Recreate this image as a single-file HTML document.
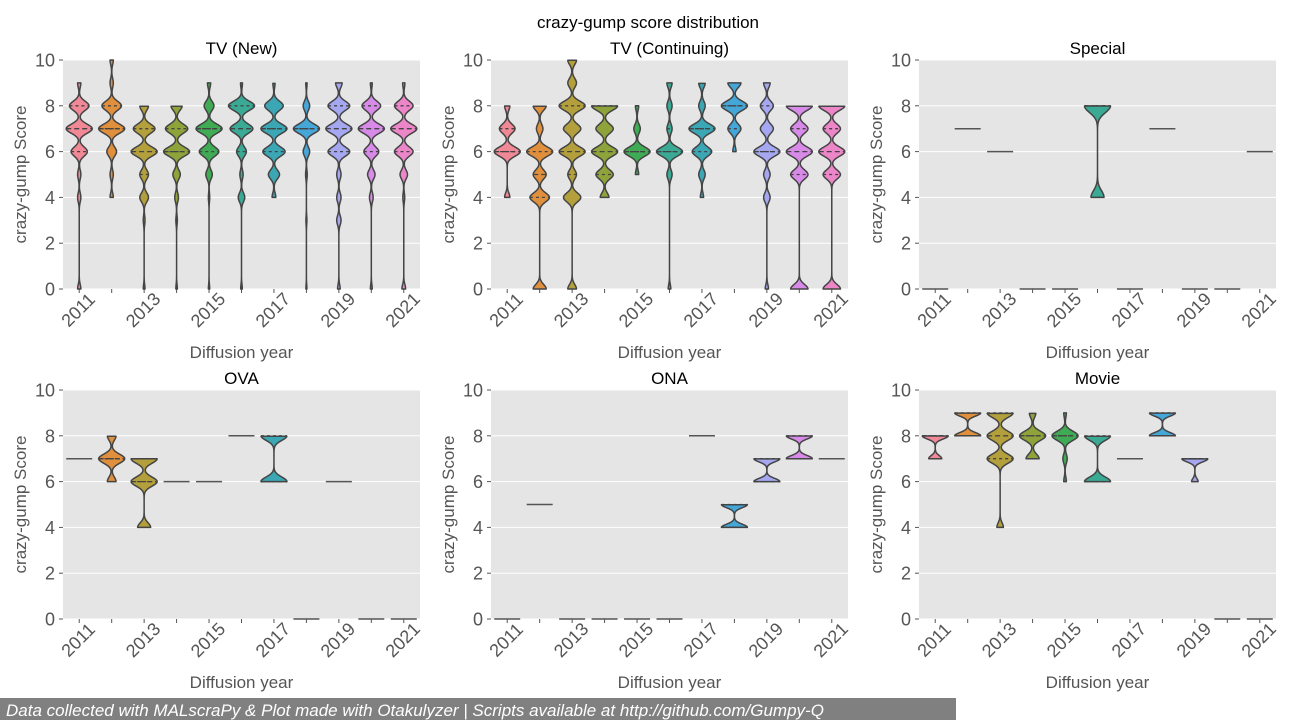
<!DOCTYPE html>
<html><head><meta charset="utf-8">
<style>
html,body{margin:0;padding:0;background:#fff;}
svg{display:block;font-family:"Liberation Sans","DejaVu Sans",sans-serif;}
</style></head>
<body>
<svg id="chart" width="1296" height="720" viewBox="0 0 1296 720">
<text x="648" y="28" text-anchor="middle" font-size="17" fill="#000">crazy-gump score distribution</text>
<rect x="0" y="698" width="956" height="22" fill="#808080"/>
<text x="6" y="716" font-size="17" font-style="italic" fill="#fff">Data collected with MALscraPy &amp; Plot made with Otakulyzer | Scripts available at http://github.com/Gumpy-Q</text>
</svg>
<script>
const years = [2011,2012,2013,2014,2015,2016,2017,2018,2019,2020,2021];
const yTicks = [0,2,4,6,8,10];
const panelTitles = ["TV (New)","TV (Continuing)","Special","OVA","ONA","Movie"];
const colors = ["#f08896","#e0903c","#b3a03c","#8ea33a","#3fab55","#3aaa94","#3ba7b5","#45a6d8","#a5a8f0","#d88ae8","#ec86c8"];
// score counts per year (score:count)
const tvNew = [
 {0:1,4:1,5:1,6:5,7:8,8:6,9:1},
 {4:1,5:1,6:3,7:8,8:6,9:1,10:1},
 {0:0.4,3:0.4,4:2,5:2,6:6,7:5,8:2},
 {0:0.4,3:0.4,4:1,5:2,6:7,7:6,8:3},
 {0:0.4,4:0.4,5:2,6:6,7:8,8:3,9:1},
 {0:0.5,4:2,5:1,6:3,7:7,8:8,9:0.6},
 {4:1,5:3,6:6,7:7,8:5,9:0.6},
 {0:0.3,3:0.3,5:0.5,6:2,7:8,8:2,9:0.4},
 {0:0.6,3:1,4:1,5:1,6:5,7:6,8:5,9:1.5},
 {0:0.5,4:1,5:2,6:4,7:7,8:5,9:0.5},
 {0:1,4:0.5,5:2,6:5,7:7,8:5,9:0.6}
];
const tvCont = [
 {4:1,6:5,7:3,8:1},
 {0:2,4:3,5:2,6:4,7:1,8:2},
 {0:1,4:2,5:1,6:3,7:2,8:3,9:1,10:1},
 {4:1,5:2,6:3,7:2,8:3},
 {5:0.5,6:4,7:1,8:0.5},
 {0:0.5,5:1,6:5,7:1,8:1,9:1},
 {4:0.5,5:1,6:3,7:4,8:1,9:1},
 {6:0.5,7:2,8:4,9:2},
 {0:0.5,4:1,5:1,6:4,7:2,8:2,9:1},
 {0:2,5:2,6:3,7:2,8:3},
 {0:2,5:2,6:3,7:2,8:3}
];
const special = [{0:1},{7:1},{6:1},{0:1},{0:1},{4:1,8:2},{0:1},{7:1},{0:1},{0:1},{6:1}];
const ova = [{7:1},{6:1,7:3,8:1},{4:1,6:2,7:2},{6:1},{6:1},{8:1},{6:1,8:1},{0:1},{6:1},{0:1},{0:1}];
const ona = [{0:1},{5:1},{0:1},{0:1},{0:1},{0:1},{8:1},{4:1,5:1},{6:1,7:1},{7:1,8:1},{7:1}];
const movie = [{7:1,8:2},{8:1,9:1},{4:0.5,7:2,8:2,9:2},{7:1,8:2,9:0.5},{6:0.3,7:0.5,8:3,9:0.3},{6:1,8:1},{7:1},{8:1,9:1},{6:0.5,7:2},{0:1},{0:1}];
const panelData = [tvNew,tvCont,special,ova,ona,movie];

const NS="http://www.w3.org/2000/svg";
const svg=document.getElementById('chart');
function mk(tag,attrs,parent){const e=document.createElementNS(NS,tag);for(const k in attrs)e.setAttribute(k,attrs[k]);(parent||svg).appendChild(e);return e;}
const colX=[63,491,919], W=357, rowY=[60,390], H=229;

function quant(counts,q){
  const ks=Object.keys(counts).map(Number).sort((a,b)=>a-b);
  const tot=ks.reduce((s,k)=>s+counts[k],0);let c=0;
  for(const k of ks){c+=counts[k];if(c>=q*tot)return k;}return ks[ks.length-1];
}

panelData.forEach((pd,pi)=>{
  const x0=colX[pi%3], y0=rowY[Math.floor(pi/3)];
  const g=mk('g',{});
  
  
  const yS=v=>y0+H-v/10*H;
  const step=W/years.length;
  const xS=i=>x0+step*(i+0.5);
  const bg=mk('rect',{x:x0,y:y0,width:W,height:H,fill:'#e5e5e5'},g);
  
  
  yTicks.forEach(t=>{
    const gl=mk('line',{x1:x0,x2:x0+W,y1:yS(t),y2:yS(t),stroke:'#fff','stroke-width':1},g);
    
    
    mk('line',{x1:x0-4,x2:x0,y1:yS(t),y2:yS(t),stroke:'#555'},g);
    const tl=mk('text',{x:x0-8,y:yS(t)+6.5,'text-anchor':'end','font-size':18,fill:'#555'},g);
    tl.textContent=t;
    
    
  });
  years.forEach((yr,i)=>{
    mk('line',{x1:xS(i),x2:xS(i),y1:y0+H,y2:y0+H+4,stroke:'#555'},g);
    if(i%2===0){
      const tl=mk('text',{'text-anchor':'middle','dominant-baseline':'central','font-size':18,fill:'#555',transform:`translate(${xS(i)-1},${y0+H+21}) rotate(-45)`},g);
      tl.textContent=yr;
      
      
    }
  });
  const tt=mk('text',{x:x0+W/2,y:y0-6,'text-anchor':'middle','font-size':17,fill:'#000'},g);
  tt.textContent=panelTitles[pi];
  
  
  const xl=mk('text',{x:x0+W/2,y:y0+H+69,'text-anchor':'middle','font-size':17,fill:'#555'},g);
  xl.textContent='Diffusion year';
  
  
  const yl=mk('text',{'text-anchor':'middle','font-size':17,fill:'#555',transform:`translate(${x0-37},${y0+H/2}) rotate(-90)`},g);
  yl.textContent='crazy-gump Score';
  
  

  pd.forEach((counts,i)=>{
    const ks=Object.keys(counts).map(Number).sort((a,b)=>a-b);
    const cx=xS(i), half=13;
    if(ks.length===1){
      const ln=mk('line',{x1:cx-half,x2:cx+half,y1:yS(ks[0]),y2:yS(ks[0]),stroke:'#555','stroke-width':1.5},g);
      
      
      return;
    }
    const mn=ks[0], mx=ks[ks.length-1];
    let bw=0.2;
    if(ks.length===2 && mx-mn===1) bw=0.14;
    if(ks.length===2 && mx-mn>=4) bw=0.3;
    const dens=v=>ks.reduce((s,k)=>s+counts[k]*Math.exp(-0.5*((v-k)/bw)**2),0);
    const pts=[];let dmax=0;
    for(let v=mn;v<=mx+1e-9;v+=0.03){const d=dens(v);pts.push([v,d]);if(d>dmax)dmax=d;}
    const wOf=v=>dens(v)/dmax*half;
    let d='';
    pts.forEach((p,j)=>{d+=(j?'L':'M')+(cx+p[1]/dmax*half).toFixed(2)+','+yS(p[0]).toFixed(2);});
    for(let j=pts.length-1;j>=0;j--){d+='L'+(cx-pts[j][1]/dmax*half).toFixed(2)+','+yS(pts[j][0]).toFixed(2);}
    d+='Z';
    const vp=mk('path',{d:d,fill:colors[i],stroke:'#444','stroke-width':1.5,'stroke-linejoin':'round'},g);
    
    
    [0.25,0.5,0.75].forEach(q=>{
      const v=quant(counts,q);const w=wOf(v);
      const ql=mk('line',{x1:cx-w,x2:cx+w,y1:yS(v),y2:yS(v),stroke:'#444','stroke-width':1.3,'stroke-dasharray':q===0.5?'5,3':'3,3'},g);
      
      
    });
  });
});
</script>
</body></html>
